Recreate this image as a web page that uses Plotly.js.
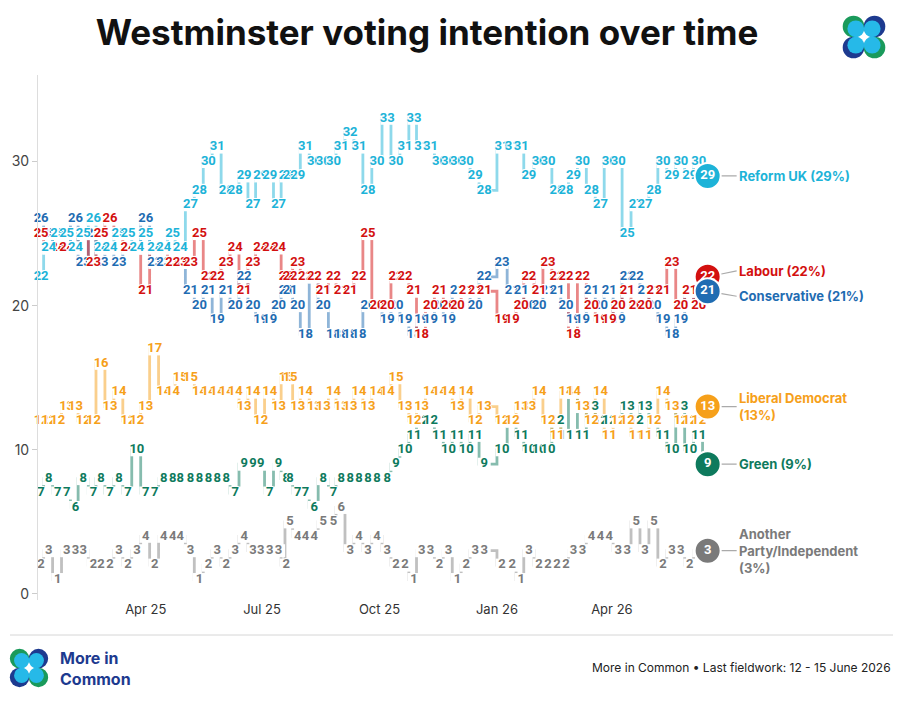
<!DOCTYPE html>
<html>
<head>
<meta charset="utf-8">
<script src="https://cdn.plot.ly/plotly-3.0.1.min.js"></script>
<style>
html,body{margin:0;padding:0;background:#fff;}
#chart{width:904px;height:702px;}
</style>
</head>
<body>
<div id="chart"></div>
<script>
// ---------- DATA ----------
const dates = [
'2025-01-09','2025-01-15','2025-01-22','2025-01-29','2025-02-05','2025-02-11','2025-02-19','2025-02-25',
'2025-03-04','2025-03-11','2025-03-18','2025-03-25','2025-04-01','2025-04-08','2025-04-15','2025-04-22','2025-04-28',
'2025-05-06','2025-05-13','2025-05-20','2025-05-27','2025-06-03','2025-06-10','2025-06-17','2025-06-24','2025-06-30',
'2025-07-07','2025-07-14','2025-07-20','2025-07-23','2025-07-29','2025-08-04','2025-08-11','2025-08-18','2025-08-26',
'2025-09-01','2025-09-08','2025-09-15','2025-09-22','2025-09-29','2025-10-07','2025-10-14','2025-10-21','2025-10-28',
'2025-11-03','2025-11-10','2025-11-17','2025-11-24','2025-12-01','2025-12-08','2025-12-15','2025-12-22',
'2026-01-05','2026-01-13','2026-01-20','2026-01-26','2026-02-03','2026-02-10','2026-02-17','2026-02-24',
'2026-03-02','2026-03-09','2026-03-16','2026-03-23','2026-03-30','2026-04-06','2026-04-13','2026-04-20','2026-04-27',
'2026-05-04','2026-05-11','2026-05-18','2026-05-25','2026-06-01','2026-06-08','2026-06-15'
];
const reform = [22,24,25,25,24,25,26,24,24,25, 25,24,25,24,24,25,24,27,28,30, 31,28,28,29,27,29,29,27,29,29,
  29,31,30,30,30,31,32,31,28,30, 33,30,31,33,31,31,30,30,30,30, 29,28,31,31,31,29,30,30,28,28,
  29,30,28,27,30,30,25,27,27,28, 30,29,30,29,30,29];
const labour = [25,24,24,24,24,25,23,25,26,25,24,24,21, 24,24,23,23,23,25,22,22,23,24,21,23,24,24,24,
  22,22,23,22,22,21,22,21,21,22,25,20, 20,22,22,21,18,20,21,20,20,21,21,21, 19,19,20,22,21,23,22,22,
  18,22,20,19,19,20,21,20,20,21,21,23,20,21,20,22];
const conservative = [26,25,24,24,26,23,25,23,24,23,24,24,26, 23,23,23,23,21,20,21,19,21,20,22,20,19,19,20,
  21,21,20,18,22,20,18,18,18,18,20,20, 19,20,19,18,19,19,20,19,21,21,20,22,23,21,21,20,20,21,21,20,
  19,19,21,20,21,19,22,22,21,20,19,18,19,21,20,21];
const libdem = [12,12,12,13,13,12,12,16,13,14, 12,12,13,17,14,14,15,15,14,14, 14,14,14,13,14,12,14,13,15,15,
  13,14,13,13,14,13,13,14,13,14, 14,15,13,12,13,14,14,14,13,14, 12,13,12,12,13,13,14,12,11,14,
  14,13,12,14,11,12,12,11,11,12, 14,13,12,12,12,13];
const green = [7,8,7,7,6,8,7,8,7,8, 7,10,7,7,8,8,8,8,8,8, 8,8,7,9,9,9,7,9,8,8, 7,7,6,8,7,8,8,8,8,8,
  8,9,10,11,12,12,11,10,11,10, 11,9,10,12,11,10,10,10,12,11, 14,11,13,12,12,12,13,12,13,12, 11,10,13,10,11,9];
const other = [2,3,1,3,3,3,2,2,2,3, 2,3,4,2,4,4,4,3,1,2, 3,2,3,4,3,3,3,3,2,5, 4,4,4,5,5,6,3,4,3,4,
  3,2,2,1,3,3,2,3,1,2, 3,3,2,2,1,3,2,2,2,2, 3,3,4,4,4,3,3,5,3,5, 2,3,3,2,3,3];

const tickDates = ['2025-04-01','2025-07-01','2025-10-01','2026-01-01','2026-04-01'];
const tickLabels = ['Apr 25','Jul 25','Oct 25','Jan 26','Apr 26'];
const yTicks = [0,10,20,30];

const partyNames = ['Another<br>Party/Independent','Green','Liberal Democrat','Conservative','Labour','Reform UK'];
const partyValues = [other, green, libdem, conservative, labour, reform];
const partyColors = ['#7a7a7a','#0e7a5d','#f6a01a','#1f6cb2','#d3100f','#1db3d8'];
const lineColors = ['rgba(150,150,150,0.6)','rgba(14,122,93,0.5)','rgba(246,160,26,0.5)','rgba(31,108,178,0.5)','rgba(211,16,15,0.5)','rgba(29,179,216,0.5)'];
const labelBreak = [true,false,true,false,false,false];
const labelYShift = [0,0,0,5,-6,0];
const circleOrder = [0,1,2,4,3,5];

// ---------- LAYOUT HELPERS ----------
const W=904,H=702,L=38,R=730,T=75,B=600;
const px = x => (x-L)/(R-L);
const py = y => (B-y)/(B-T);
const DAY = 86400000;
const lineX = dates.map(d => new Date(d+'T00:00:00Z').getTime() - 4*DAY);
const FONT = 'Inter, "Noto Sans", sans-serif';
const LBL = 'Roboto, "Noto Sans", sans-serif';

const traces = [];
// step lines
partyValues.forEach((vals,i)=>{
  traces.push({type:'scatter',mode:'lines',x:lineX,y:vals,
    line:{shape:'hv',color:lineColors[i],width:2.8},hoverinfo:'skip',showlegend:false});
});
// value labels
partyValues.forEach((vals,i)=>{
  traces.push({type:'scatter',mode:'markers+text',x:dates,y:vals,
    text:vals.map(String),textposition:'middle center',cliponaxis:false,
    marker:{symbol:'square',size:13,color:'#ffffff',line:{width:0}},
    textfont:{family:LBL,size:13,weight:700,color:partyColors[i],
      shadow:'1px 0 0 #fff, -1px 0 0 #fff, 0 1px 0 #fff, 0 -1px 0 #fff'},
    hoverinfo:'skip',showlegend:false});
});
// end circles
circleOrder.forEach(i=>{
  const vals=partyValues[i];
  const n=vals.length-1;
  traces.push({type:'scatter',mode:'markers+text',x:[dates[n]],y:[vals[n]],
    text:[String(vals[n])],textposition:'middle center',cliponaxis:false,
    marker:{size:26,color:partyColors[i],line:{color:'#ffffff',width:2}},
    textfont:{family:LBL,size:13,weight:700,color:'#ffffff'},
    hoverinfo:'skip',showlegend:false});
});

const annotations = [];
partyValues.forEach((vals,i)=>{
  const n=vals.length-1;
  const txt = partyNames[i] + (labelBreak[i] ? '<br>' : ' ') + '(' + vals[n] + '%)';
  annotations.push({x:dates[n],y:vals[n],xref:'x',yref:'y',text:'<b>'+txt+'</b>',
    showarrow:true,arrowhead:0,arrowwidth:1.2,arrowcolor:'#aaaaaa',
    ax:29,ay:labelYShift[i],standoff:14,xanchor:'left',yanchor:'middle',align:'left',
    font:{family:FONT,size:13,color:partyColors[i]}});
});
annotations.push({xref:'paper',yref:'paper',x:px(893),y:py(667),xanchor:'right',yanchor:'middle',showarrow:false,
  text:'More in Common • Last fieldwork: 12 - 15 June 2026',font:{family:FONT,size:12,color:'#222'}});
annotations.push({xref:'paper',yref:'paper',x:px(58),y:py(668),xanchor:'left',yanchor:'middle',showarrow:false,align:'left',
  text:'<b>More in<br>Common</b>',font:{family:FONT,size:16,color:'#1d3a8f'}});

// logos
const shapes = [];
shapes.push({type:'line',xref:'paper',yref:'paper',x0:px(10),x1:px(893),y0:py(635),y1:py(635),line:{color:'#d6d6d6',width:1}});
function circ(cx,cy,r,color){
  shapes.push({type:'circle',xref:'paper',yref:'paper',x0:px(cx-r),x1:px(cx+r),y0:py(cy+r),y1:py(cy-r),
    fillcolor:color,line:{width:0}});
}
function logo(cx,cy,s){
  const d=10.5*s, r=10.8*s, ir=8.4*s, sh=2.3*s;
  const cfg=[[-1,-1,'#1a9a5b'],[1,-1,'#1d3a8f'],[-1,1,'#1d3a8f'],[1,1,'#1a9a5b']];
  cfg.forEach(c=>{circ(cx+c[0]*d,cy+c[1]*d,r,c[2]);});
  cfg.forEach(c=>{circ(cx+c[0]*d-c[0]*sh,cy+c[1]*d-c[1]*sh,ir,'#26b9e8');});
}
logo(864,37,1);
logo(29,668,0.9);

const layout = {
  width:W,height:H,margin:{l:L,r:W-R,t:T,b:H-B,pad:0},
  paper_bgcolor:'#ffffff',plot_bgcolor:'#ffffff',
  title:{text:'<b>Westminster voting intention over time</b>',x:427/W,xref:'container',xanchor:'center',
    y:1-33/H,yref:'container',yanchor:'middle',font:{family:FONT,size:35,weight:800,color:'#111'}},
  xaxis:{type:'date',range:['2025-01-06 14:00','2026-07-02 12:00'],tickvals:tickDates,ticktext:tickLabels,
    showgrid:false,zeroline:false,showline:false,ticks:'',tickfont:{family:FONT,size:13,color:'#333'},fixedrange:true},
  yaxis:{range:[-0.42,36],tickvals:yTicks,ticktext:yTicks.map(String),showgrid:false,zeroline:false,
    showline:true,linecolor:'#dddddd',linewidth:1,ticks:'outside',ticklen:5,tickcolor:'#cccccc',
    tickfont:{family:FONT,size:14,color:'#444'},fixedrange:true},
  shapes:shapes,annotations:annotations,showlegend:false,hovermode:false
};
Plotly.newPlot('chart',traces,layout,{displayModeBar:false,staticPlot:true});
</script>
</body>
</html>
